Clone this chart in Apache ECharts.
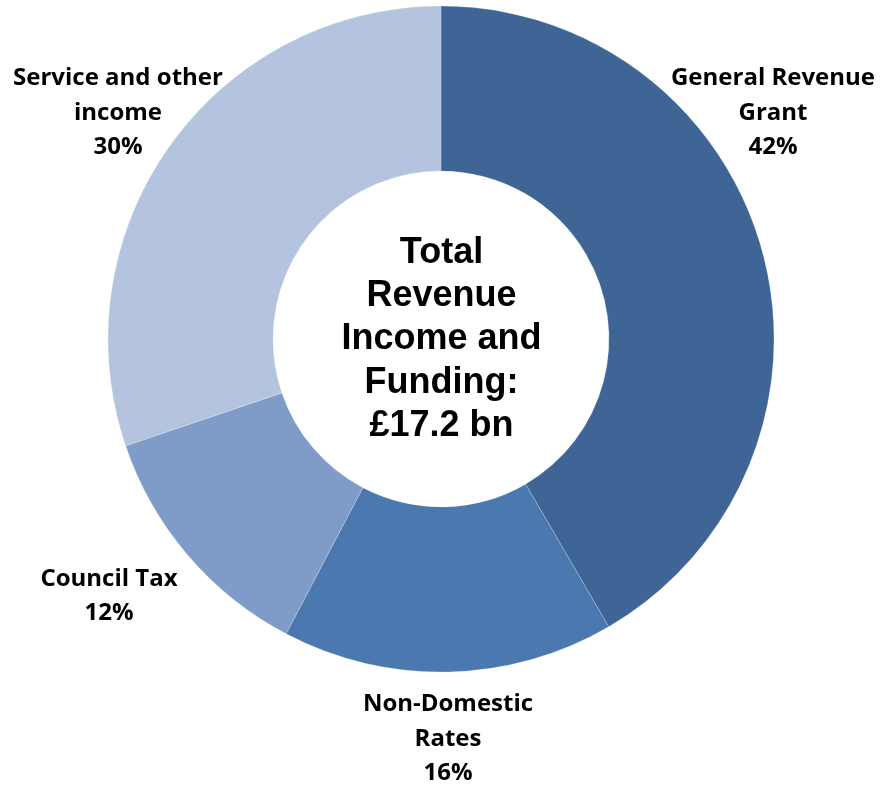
<!DOCTYPE html>
<html>
<head>
<meta charset="utf-8">
<style>
  html, body { margin: 0; padding: 0; background: #ffffff; }
  #chart { width: 883px; height: 791px; }
</style>
<script src="https://cdn.jsdelivr.net/npm/echarts@6/dist/echarts.min.js"></script>
</head>
<body>
<div id="chart"></div>
<script>
// Revenue income sources, share of total (%)
const categories = ['General Revenue\nGrant', 'Non-Domestic\nRates', 'Council Tax', 'Service and other\nincome'];
const shares = [41.6, 16.1, 12.1, 30.2];
const colours = ['#3E6595', '#4A78AF', '#7F9BC8', '#B4C3DE'];
const centreLines = ['Total', 'Revenue', 'Income and', 'Funding:', '£17.2 bn'];

// where each outside label sits (label centre, px)
const labelSpots = [[773, 113], [448, 739], [109, 596], [118, 113]];

const chart = echarts.init(document.getElementById('chart'), null, { renderer: 'canvas' });

chart.setOption({
  animation: false,
  backgroundColor: '#ffffff',
  title: {
    text: centreLines.join('\n'),
    left: 'center',
    top: 226,
    textStyle: {
      fontFamily: '"Liberation Sans", Arial, sans-serif',
      fontWeight: 'bold',
      fontSize: 36,
      lineHeight: 43.4,
      color: '#000000'
    }
  },
  series: [{
    type: 'pie',
    center: [441, 339],
    radius: [168, 333],
    startAngle: 90,
    clockwise: true,
    avoidLabelOverlap: false,
    itemStyle: { borderColor: 'rgba(255,255,255,0.35)', borderWidth: 0.6 },
    label: {
      show: true,
      position: 'outside',
      formatter: p => p.name + '\n' + Math.round(p.value) + '%',
      fontFamily: '"Open Sans", Lato, sans-serif',
      fontWeight: 'bold',
      fontSize: 24,
      lineHeight: 34.5,
      color: '#000000',
      align: 'center'
    },
    labelLine: { show: false },
    labelLayout: params => {
      const spot = labelSpots[params.dataIndex];
      return { x: spot[0], y: spot[1], align: 'center', verticalAlign: 'middle' };
    },
    emphasis: { disabled: true },
    data: categories.map((name, i) => ({
      name: name,
      value: shares[i],
      itemStyle: { color: colours[i] }
    }))
  }]
});
</script>
</body>
</html>
